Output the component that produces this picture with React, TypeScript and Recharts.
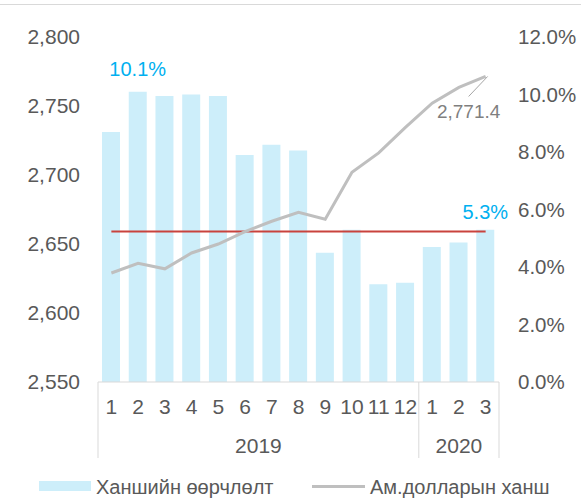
import { Bar, ComposedChart, LabelList, Line, XAxis, YAxis } from 'recharts';

const months = ['1', '2', '3', '4', '5', '6', '7', '8', '9', '10', '11', '12', '1', '2', '3'];
const years = ['2019', '2019', '2019', '2019', '2019', '2019', '2019', '2019', '2019', '2019', '2019', '2019', '2020', '2020', '2020'];
// Ханшийн өөрчлөлт, % (right axis)
const rateChange = [8.7, 10.1, 9.95, 10.0, 9.95, 7.9, 8.25, 8.05, 4.5, 5.3, 3.4, 3.45, 4.7, 4.85, 5.3];
// Ам.долларын ханш (left axis)
const usdRate = [2629, 2636, 2632, 2643.5, 2650, 2659, 2666.5, 2673, 2668, 2702, 2716, 2734.5, 2752, 2763.5, 2771.4];
const refLevel = 2659;
const leftTicks = [2550, 2600, 2650, 2700, 2750, 2800];
const rightTicks = [0, 2, 4, 6, 8, 10, 12];

const rows = months.map((m, i) => ({
  period: `${years[i]}-${m}`,
  month: m,
  year: years[i],
  change: rateChange[i],
  rate: usdRate[i],
  level: refLevel,
}));

const W = 581;
const H = 501;
const LEFT_W = 98;
const RIGHT_W = 82;
const BAND = (W - LEFT_W - RIGHT_W) / rows.length;
const FONT = '"Liberation Sans", Arial, sans-serif';
const TEXT = '#595959';
const GRID = '#D9D9D9';

const barLabelLift: Record<number, number> = { 1: 16, 14: 11 };

function MonthTick(props: any) {
  const { x, y, payload } = props;
  const i = payload.index;
  const row = rows[i];
  const isStart = i === 0 || rows[i - 1].year !== row.year;
  const isLast = i === rows.length - 1;
  let groupEnd = i;
  while (groupEnd + 1 < rows.length && rows[groupEnd + 1].year === row.year) groupEnd++;
  return (
    <g>
      <text x={x} y={y + 32} textAnchor="middle" fill={TEXT} fontSize={21} fontFamily={FONT}>
        {row.month}
      </text>
      {isStart && (
        <>
          <line x1={x - BAND / 2} x2={x - BAND / 2} y1={y} y2={y + 76} stroke={GRID} />
          <text
            x={x + ((groupEnd - i) * BAND) / 2}
            y={y + 71}
            textAnchor="middle"
            fill={TEXT}
            fontSize={21}
            fontFamily={FONT}
          >
            {row.year}
          </text>
        </>
      )}
      {isLast && <line x1={x + BAND / 2} x2={x + BAND / 2} y1={y} y2={y + 76} stroke={GRID} />}
    </g>
  );
}

const renderChangeLabel = (props: any) => {
  const { x, y, width, value, index } = props;
  if (!(index in barLabelLift)) return null;
  return (
    <text
      x={Number(x) + Number(width) / 2}
      y={Number(y) - barLabelLift[index]}
      textAnchor="middle"
      fill="#00B0F0"
      fontSize={20}
      fontFamily={FONT}
    >
      {Number(value).toFixed(1)}%
    </text>
  );
};

const renderRateLabel = (props: any) => {
  const { x, y, value, index } = props;
  if (index !== rows.length - 1) return null;
  const px = Number(x);
  const py = Number(y);
  return (
    <g>
      <line x1={px - 17} y1={py + 20} x2={px + 2} y2={py} stroke="#A6A6A6" strokeWidth={1} />
      <text x={px - 17} y={py + 42} textAnchor="middle" fill="#7F7F7F" fontSize={19} fontFamily={FONT}>
        {Number(value).toLocaleString('en-US', { minimumFractionDigits: 1 })}
      </text>
    </g>
  );
};

export default function App() {
  return (
    <div style={{ position: 'absolute', left: 0, top: 0, width: W, height: H, background: '#fff', fontFamily: FONT }}>
      <div style={{ position: 'absolute', left: 0, top: 4, width: W, height: 1, background: GRID }} />
      <ComposedChart width={W} height={H} data={rows} margin={{ top: 37, right: 0, left: 0, bottom: 0 }}>
        <XAxis
          dataKey="period"
          xAxisId="x"
          interval={0}
          height={119}
          tickSize={0}
          tickMargin={0}
          tickLine={false}
          axisLine={{ stroke: GRID }}
          tick={<MonthTick />}
        />
        <YAxis
          yAxisId="left"
          orientation="left"
          width={LEFT_W}
          domain={[2550, 2800]}
          ticks={leftTicks}
          axisLine={false}
          tickLine={false}
          tickSize={0}
          tickMargin={18}
          tick={{ fill: TEXT, fontSize: 21, fontFamily: FONT }}
          tickFormatter={(v) => Number(v).toLocaleString('en-US')}
        />
        <YAxis
          yAxisId="right"
          orientation="right"
          width={RIGHT_W}
          domain={[0, 12]}
          ticks={rightTicks}
          axisLine={false}
          tickLine={false}
          tickSize={0}
          tickMargin={19}
          tick={{ fill: TEXT, fontSize: 20.5, fontFamily: FONT }}
          tickFormatter={(v) => `${Number(v).toFixed(1)}%`}
        />
        <Bar xAxisId="x" yAxisId="right" dataKey="change" fill="#CDEEFA" barSize={18} isAnimationActive={false}>
          <LabelList dataKey="change" content={renderChangeLabel} />
        </Bar>
        <Line
          xAxisId="x"
          yAxisId="left"
          dataKey="level"
          stroke="#C9433D"
          strokeWidth={2}
          dot={false}
          activeDot={false}
          isAnimationActive={false}
        />
        <Line
          xAxisId="x"
          yAxisId="left"
          dataKey="rate"
          stroke="#BFBFBF"
          strokeWidth={3}
          dot={false}
          activeDot={false}
          isAnimationActive={false}
        >
          <LabelList dataKey="rate" content={renderRateLabel} />
        </Line>
      </ComposedChart>
      <div style={{ position: 'absolute', left: 39, top: 481, width: 52, height: 10, background: '#CDEEFA' }} />
      <div style={{ position: 'absolute', left: 96, top: 475, fontSize: 20, color: TEXT, whiteSpace: 'nowrap', lineHeight: '24px' }}>
        Ханшийн өөрчлөлт
      </div>
      <div style={{ position: 'absolute', left: 312, top: 484.5, width: 53, height: 3, background: '#BFBFBF' }} />
      <div style={{ position: 'absolute', left: 370, top: 475, fontSize: 20, color: TEXT, whiteSpace: 'nowrap', lineHeight: '24px' }}>
        Ам.долларын ханш
      </div>
    </div>
  );
}
